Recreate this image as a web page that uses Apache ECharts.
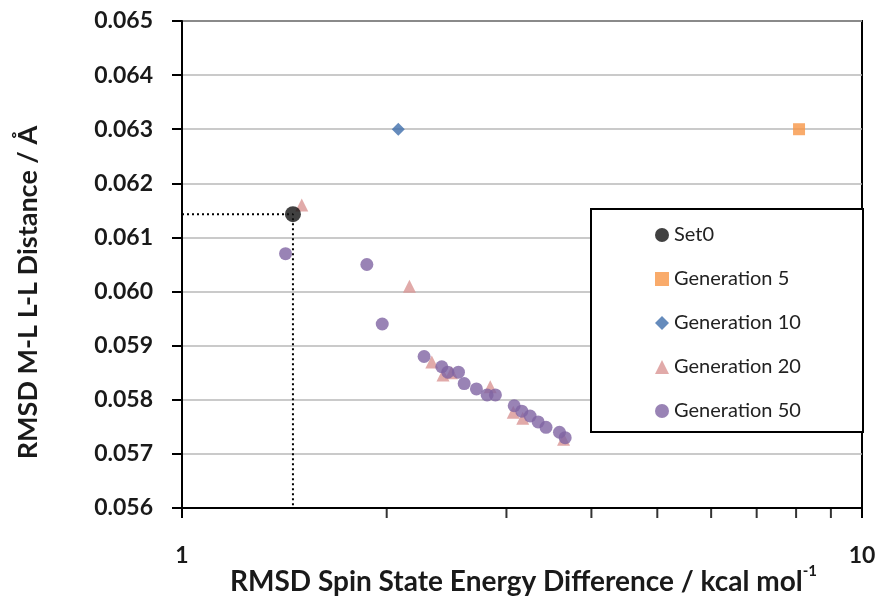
<!DOCTYPE html>
<html>
<head>
<meta charset="utf-8">
<script src="https://cdn.jsdelivr.net/npm/echarts@6/dist/echarts.min.js"></script>
<style>
  html, body { margin: 0; padding: 0; background: #fff; }
  #main { width: 876px; height: 596px; }
</style>
</head>
<body>
<div id="main"></div>
<script>
// data: [energy diff (kcal/mol), M-L L-L distance (Å)]
var set0 = [[1.456, 0.06143]];
var gen5 = [[8.08, 0.0630]];
var gen10 = [[2.08, 0.0630]];
var gen20 = [
    [1.50, 0.0616], [2.16, 0.0601], [2.33, 0.0587], [2.42, 0.05846],
    [2.49, 0.0585], [2.84, 0.05824], [3.07, 0.05777], [3.17, 0.05766],
    [3.64, 0.05727]
];
var gen50 = [
    [1.42, 0.0607], [1.87, 0.0605], [1.97, 0.0594], [2.27, 0.0588],
    [2.41, 0.05861], [2.46, 0.05851], [2.55, 0.05851], [2.60, 0.0583],
    [2.71, 0.0582], [2.81, 0.05809], [2.89, 0.05809], [3.08, 0.05789],
    [3.16, 0.05779], [3.25, 0.0577], [3.34, 0.05759], [3.43, 0.05749],
    [3.59, 0.0574], [3.66, 0.0573]
];
var minorTickVals = [2, 3, 4, 5, 6, 7, 8, 9];
var yMin = 0.056, yMax = 0.065, yStep = 0.001;
var xMin = 1, xMax = 10;

// dotted guide from the axes to Set0
var guide = [[xMin, set0[0][1]], [set0[0][0], set0[0][1]], [set0[0][0], yMin]];

var font = 'Lato';
var chart = echarts.init(document.getElementById('main'));
chart.setOption({
    animation: false,
    backgroundColor: '#fff',
    // x axis title, placed as a title so the superscript sits right
    title: {
        text: '{m|RMSD Spin State Energy Difference / kcal mol}{sup|-1}',
        left: 230, top: 564, padding: 0,
        textStyle: {
            rich: {
                m: { fontFamily: font, fontWeight: 'bold', fontSize: 28, color: '#1a1a1a', lineHeight: 32, verticalAlign: 'bottom' },
                sup: { fontFamily: font, fontWeight: 'bold', fontSize: 15, color: '#1a1a1a', lineHeight: 32, verticalAlign: 'top' }
            }
        }
    },
    grid: {
        left: 182, right: 14, top: 21, bottom: 88,
        outerBoundsMode: 'none',
        show: true, borderColor: '#000', borderWidth: 2
    },
    xAxis: {
        type: 'log', logBase: 10, min: xMin, max: xMax,
        axisLine: { lineStyle: { color: '#000', width: 2 } },
        axisTick: { show: true, length: 10, lineStyle: { color: '#000', width: 2 } },
        axisLabel: { margin: 36, fontFamily: font, fontWeight: 'bold', fontSize: 23, color: '#1a1a1a' },
        splitLine: { show: false }
    },
    yAxis: {
        type: 'value', min: yMin, max: yMax, interval: yStep,
        name: 'RMSD M-L L-L Distance / Å',
        nameLocation: 'middle', nameGap: 140, nameRotate: 90, nameMoveOverlap: false,
        nameTextStyle: {
            fontFamily: font, fontWeight: 'bold', fontSize: 27, color: '#1a1a1a',
            padding: [0, 56, 0, 0]
        },
        axisLine: { show: true, lineStyle: { color: '#000', width: 2 } },
        axisTick: { show: true, length: 10, lineStyle: { color: '#000', width: 2 } },
        axisLabel: {
            margin: 29, fontFamily: font, fontWeight: 'bold', fontSize: 23, color: '#1a1a1a',
            formatter: function (v) { return v.toFixed(3); }
        },
        splitLine: { lineStyle: { color: '#b8b8b8', width: 1.5 } }
    },
    legend: {
        orient: 'vertical', left: 650, top: 220,
        itemWidth: 14, itemHeight: 14, itemGap: 24,
        textStyle: { fontFamily: font, fontSize: 20, color: '#222' },
        data: [
            { name: 'Set0', icon: 'circle' },
            { name: 'Generation 5', icon: 'rect' },
            { name: 'Generation 10', icon: 'diamond' },
            { name: 'Generation 20', icon: 'triangle' },
            { name: 'Generation 50', icon: 'circle' }
        ]
    },
    graphic: [{
        type: 'rect', z: 3,
        shape: { x: 591, y: 209, width: 272, height: 223 },
        style: { fill: '#fff', stroke: '#000', lineWidth: 2 }
    }],
    series: [
        {
            type: 'line', name: 'guide', data: guide, symbol: 'none', silent: true,
            lineStyle: { color: '#000', width: 2, type: [2, 3] }, z: 1
        },
        {
            type: 'scatter', name: 'ticks', silent: true, clip: false,
            data: minorTickVals.map(function (v) { return [v, yMin]; }),
            symbol: 'rect', symbolSize: [2, 10], symbolOffset: [0, 5],
            itemStyle: { color: '#000' }
        },
        {
            type: 'scatter', name: 'Generation 5', data: gen5, symbol: 'rect', symbolSize: 12,
            itemStyle: { color: '#f79646' }
        },
        {
            type: 'scatter', name: 'Generation 10', data: gen10, symbol: 'diamond', symbolSize: 13,
            itemStyle: { color: '#3f6eab' }
        },
        {
            type: 'scatter', name: 'Generation 20', data: gen20, symbol: 'triangle', symbolSize: 13,
            itemStyle: { color: '#d99594' }
        },
        {
            type: 'scatter', name: 'Generation 50', data: gen50, symbol: 'circle', symbolSize: 13,
            itemStyle: { color: '#8064a2' }
        },
        {
            type: 'scatter', name: 'Set0', data: set0, symbol: 'circle', symbolSize: 16,
            itemStyle: { color: '#111' }
        }
    ]
});
</script>
</body>
</html>
